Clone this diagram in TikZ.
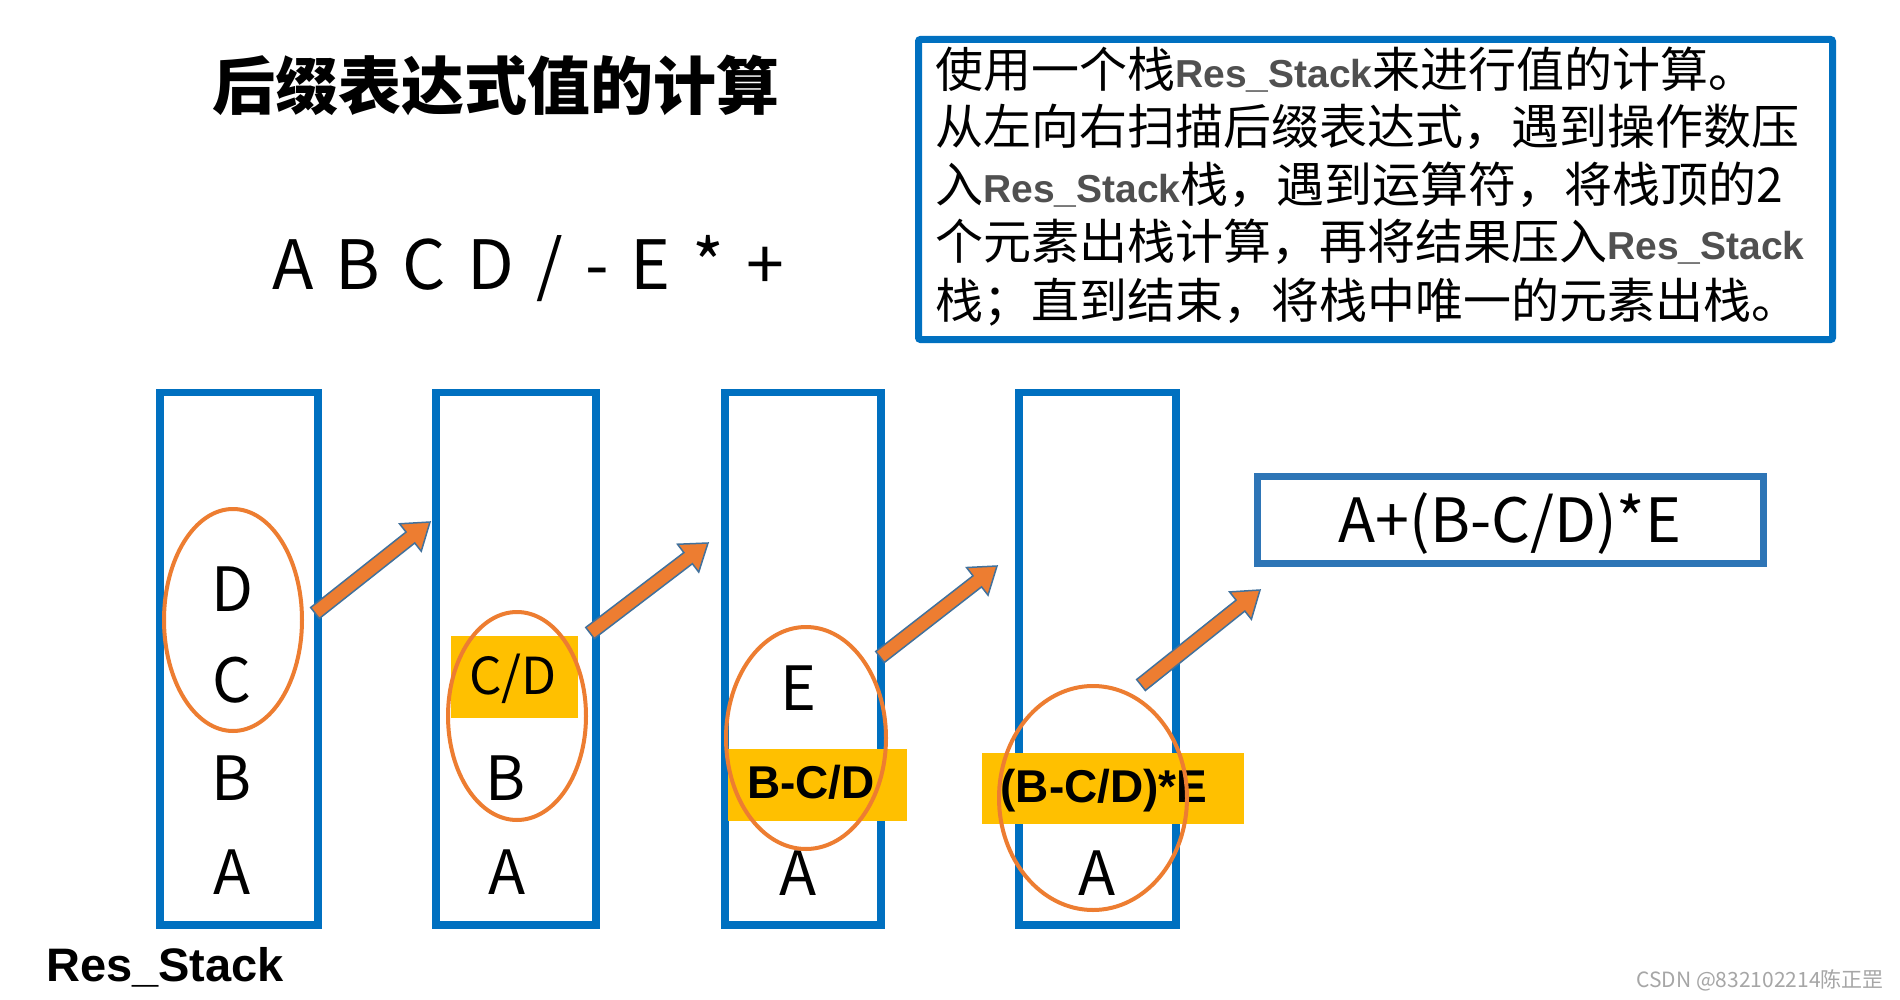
\documentclass[tikz,border=0pt]{standalone}
\usepackage{fontspec}
\usetikzlibrary{calc,shapes.geometric}
\newfontfamily\cjk{Noto Sans CJK SC}
\newfontfamily\arb{Liberation Sans}
\newcommand\myfs[1]{\fontsize{#1}{#1}\selectfont}
\definecolor{stackblue}{HTML}{0070C0}
\definecolor{resblue}{HTML}{2E75B6}
\definecolor{ringorange}{HTML}{ED7D31}
\definecolor{arrowedge}{HTML}{41719C}
\definecolor{hilite}{HTML}{FFC000}
\definecolor{wmgray}{HTML}{A6A6A6}
\definecolor{rsgray}{HTML}{505050}
\newcommand\blockarr[2]{%
  \coordinate (hb) at ($(#2)!25pt!(#1)$);
  \draw[barrow] ($(#1)!7pt!90:(#2)$) -- ($(hb)!7pt!90:(#2)$) -- ($(hb)!17.5pt!90:(#2)$) -- (#2) -- ($(hb)!17.5pt!-90:(#2)$) -- ($(hb)!7pt!-90:(#2)$) -- ($(#1)!7pt!-90:(#2)$) -- cycle;}
\newcommand\rs{{\arb\bfseries\color{rsgray}\myfs{39}Res\_Stack}}
\begin{document}
\begin{tikzpicture}[x=1pt,y=-1pt,
  stackbox/.style={draw=stackblue, line width=7.5pt, minimum width=#1pt, minimum height=532.5pt, inner sep=0pt},
  ring/.style 2 args={ellipse, draw=ringorange, line width=4pt, minimum width=#1pt, minimum height=#2pt, inner sep=0pt},
  hl/.style 2 args={fill=hilite, minimum width=#1pt, minimum height=#2pt, inner sep=0pt},
  letter/.style={font=\cjk\myfs{61}, anchor=base, inner sep=0pt},
  boldlbl/.style={font=\arb\bfseries\myfs{46}, anchor=base, inner sep=0pt},
  tline/.style={font=\cjk\myfs{48}, anchor=base west, inner sep=0pt},
  barrow/.style={fill=ringorange, draw=arrowedge, line width=1.5pt, line join=miter}]
\useasboundingbox (0,0) rectangle (1900,1000);
\fill[white] (0,0) rectangle (1900,1000);

% title and expression
\node[font=\cjk\bfseries\myfs{63}, anchor=base west, inner sep=0pt] (title) at (212,110) {后缀表达式值的计算};
\node[font=\cjk\myfs{68}, anchor=base west, inner sep=0pt] (expr) at (272,290) {\spaceskip=22pt A B C D / - E * +};

% explanation box
\node[draw=stackblue, line width=7pt, rounded corners=2pt, minimum width=914pt, minimum height=300pt, inner sep=0pt] (tb) at (1375.5,189.5) {};
\node[tline] (t1) at (935,88) {使用一个栈\rs 来进行值的计算。};
\node[tline] (t2) at (935,145) {从左向右扫描后缀表达式，遇到操作数压};
\node[tline] (t3) at (935,203) {入\rs 栈，遇到运算符，将栈顶的2};
\node[tline] (t4) at (935,260) {个元素出栈计算，再将结果压入\rs};
\node[tline] (t5) at (935,318) {栈；直到结束，将栈中唯一的元素出栈。};

% stacks
\node[stackbox=158] (s1) at (239,658.75) {};
\node[stackbox=160] (s2) at (516,658.75) {};
\node[stackbox=156] (s3) at (803,658.75) {};
\node[stackbox=157] (s4) at (1097.5,658.75) {};

% highlights
\node[hl={127}{82}] (h2) at (514.5,677) {};
\node[hl={179}{72}] (h3) at (817.5,785) {};
\node[hl={262}{71}] (h4) at (1113,788.5) {};

% stack 1
\node[letter] (d1) at (232,611.6) {D};
\node[letter] (c1) at (232,702) {C};
\node[letter] (b1) at (232,800) {B};
\node[letter] (a1) at (232,894) {A};
% stack 2
\node[letter, font=\cjk\myfs{51}] (cd2) at (513,694) {C/D};
\node[letter] (b2) at (506,800) {B};
\node[letter] (a2) at (507,894) {A};
% stack 3
\node[letter] (e3) at (798,710) {E};
\node[boldlbl] (bcd3) at (811,798) {B-C/D};
\node[letter] (a3) at (798,895) {A};
% stack 4
\node[boldlbl] (bcde4) at (1104,802) {(B-C/D)*E};
\node[letter] (a4) at (1097,895) {A};

% rings
\node[ring={138}{222}] (r1) at (233,620) {};
\node[ring={138}{208}] (r2) at (517,716) {};
\node[ring={160}{222}] (r3) at (806,738) {};
\node[ring={188}{224}] (r4) at (1093,798) {};

% result
\node[draw=resblue, line width=7pt, minimum width=506pt, minimum height=87pt, inner sep=0pt] (res) at (1510.5,520) {};
\node[letter] (restext) at (1510,542) {A+(B-C/D)*E};

% arrows
\coordinate (a1s) at (315,613);
\coordinate (a1e) at (430,522);
\coordinate (a2s) at (590,633);
\coordinate (a2e) at (708,543);
\coordinate (a3s) at (880,657);
\coordinate (a3e) at (997,566);
\coordinate (a4s) at (1141,685);
\coordinate (a4e) at (1260,590);
\blockarr{a1s}{a1e}
\blockarr{a2s}{a2e}
\blockarr{a3s}{a3e}
\blockarr{a4s}{a4e}

% labels
\node[font=\arb\bfseries\myfs{47}, anchor=base west, inner sep=0pt] (lbl) at (46,981) {Res\_Stack};
\node[font=\cjk\myfs{21}, text=wmgray, anchor=base east, inner sep=0pt] (wm) at (1884,987) {CSDN @832102214陈正罡};
\end{tikzpicture}
\end{document}
